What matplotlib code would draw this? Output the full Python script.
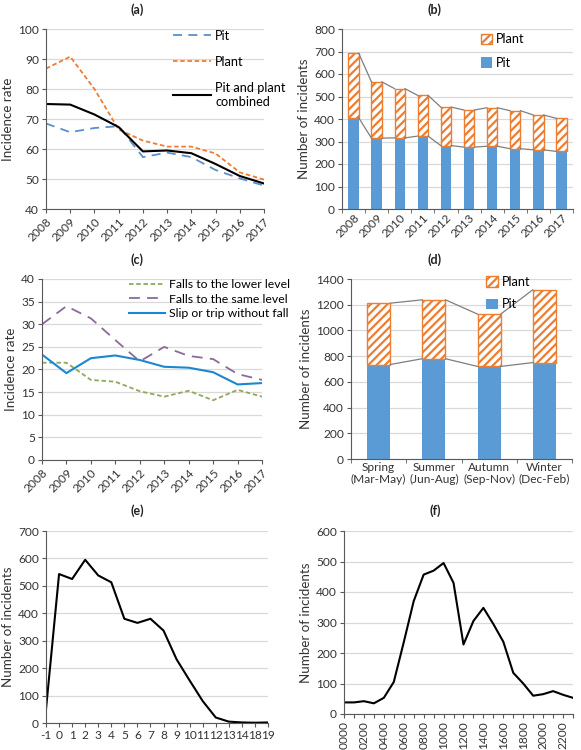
import matplotlib
import numpy as np

matplotlib.use("Agg")
import matplotlib.pyplot as plt

plt.rcParams["font.family"] = ["Lato", "DejaVu Sans"]
plt.rcParams["hatch.linewidth"] = 1.6

# ---------------------------------------------------------------------------
# data
# ---------------------------------------------------------------------------
years = ["2008", "2009", "2010", "2011", "2012", "2013", "2014", "2015", "2016", "2017"]

# (a) incidence rate
rate_pit = [68.5, 65.6, 67.0, 67.6, 57.3, 58.8, 57.3, 53.0, 50.2, 47.8]
rate_plant = [86.8, 90.8, 80.0, 66.5, 62.8, 60.8, 60.8, 58.5, 52.2, 49.8]
rate_combined = [75.0, 74.8, 71.5, 67.3, 59.2, 59.5, 58.6, 55.0, 51.0, 48.5]

# (b) number of incidents per year
count_pit = [405, 315, 316, 324, 282, 275, 279, 268, 263, 256]
count_total = [692, 565, 535, 505, 453, 440, 450, 437, 418, 403]

# (c) incidence rate by type
falls_lower = [21.5, 21.5, 17.7, 17.3, 15.2, 14.0, 15.3, 13.2, 15.5, 14.0]
falls_same = [30.0, 34.0, 31.3, 26.5, 21.8, 25.0, 23.0, 22.3, 19.0, 17.7]
slip_trip = [23.3, 19.2, 22.5, 23.1, 22.1, 20.6, 20.4, 19.4, 16.7, 17.0]

# (d) by season
seasons = ["Spring\n(Mar-May)", "Summer\n(Jun-Aug)", "Autumn\n(Sep-Nov)", "Winter\n(Dec-Feb)"]
season_pit = [735, 780, 720, 750]
season_total = [1212, 1238, 1127, 1316]

# (e) by hours into shift
shift_hours = ["-1", "0", "1", "2", "3", "4", "5", "6", "7", "8", "9", "10",
               "11", "12", "13", "14", "18", "19"]
shift_counts = [50, 543, 525, 595, 538, 513, 380, 365, 380, 337, 232, 155,
                80, 20, 5, 2, 1, 2]

# (f) by time of day
hour_labels = ["0000", "0100", "0200", "0300", "0400", "0500", "0600", "0700",
               "0800", "0900", "1000", "1100", "1200", "1300", "1400", "1500",
               "1600", "1700", "1800", "1900", "2000", "2100", "2200", "2300"]
hour_counts = [38, 38, 42, 35, 53, 105, 235, 370, 457, 470, 495, 430,
               228, 305, 348, 295, 237, 135, 100, 60, 65, 75, 63, 53]

BLUE = "#5B9BD5"
ORANGE = "#ED7D31"
GRID = "#D9D9D9"
AXIS = "#595959"
TICK_FS = 8.6
LABEL_FS = 9.6
LEG_FS = 9.2

W, H = 581, 750
fig = plt.figure(figsize=(W / 100, H / 100), dpi=100)


def add_ax(x0, y0, x1, y1):
    """pixel box (top-left origin) -> axes"""
    return fig.add_axes([x0 / W, 1 - y1 / H, (x1 - x0) / W, (y1 - y0) / H])


def style(ax, ylim, ystep, ylabel):
    ax.set_ylim(*ylim)
    ax.set_yticks(np.arange(ylim[0], ylim[1] + ystep / 2, ystep))
    ax.yaxis.grid(True, color=GRID, linewidth=0.9)
    ax.set_axisbelow(True)
    for s in ("top", "right"):
        ax.spines[s].set_visible(False)
    ax.spines["left"].set_color(AXIS)
    ax.spines["bottom"].set_color(AXIS)
    ax.tick_params(labelsize=TICK_FS, colors="#333333", length=3, color=AXIS, pad=2)
    ax.set_ylabel(ylabel, fontsize=LABEL_FS, color="#333333", labelpad=3)


def title(x, y, s):
    fig.text(x / W, 1 - y / H, s, ha="center", va="center",
             fontsize=9, fontweight="bold", color="#222222")


def stacked(ax, cats, pit, total, width):
    x = np.arange(len(cats))
    plant = np.array(total) - np.array(pit)
    ax.bar(x, pit, width, color=BLUE, label="Pit", zorder=2)
    ax.bar(x, plant, width, bottom=pit, color="white", edgecolor=ORANGE,
           hatch="////", linewidth=1.0, label="Plant", zorder=2)
    # series lines between bars
    for i in range(len(cats) - 1):
        for vals in (pit, total):
            ax.plot([x[i] + width / 2, x[i + 1] - width / 2], [vals[i], vals[i + 1]],
                    color="#7F7F7F", linewidth=0.9, zorder=3)
    ax.set_xlim(-0.5, len(cats) - 0.5)
    ax.set_xticks(x)
    ax.set_xticks(np.arange(-0.5, len(cats), 1), minor=True)
    ax.tick_params(axis="x", which="major", length=0)
    ax.tick_params(axis="x", which="minor", length=3, color=AXIS)
    h, l = ax.get_legend_handles_labels()
    return h[::-1], l[::-1]


# (a)
ax = add_ax(46, 29, 264, 209)
x = np.arange(len(years))
ax.plot(x, rate_pit, color="#5B8FC9", linestyle=(0, (5, 3.5)), linewidth=1.3, label="Pit")
ax.plot(x, rate_plant, color=ORANGE, linestyle=(0, (2.5, 1.5)), linewidth=1.3, label="Plant")
ax.plot(x, rate_combined, color="black", linewidth=1.5, label="Pit and plant\ncombined")
style(ax, (40, 100), 10, "Incidence rate")
ax.set_xlim(0, 9)
ax.set_xticks(x, years, rotation=45, ha="right", rotation_mode="anchor")
ax.legend(loc="upper left", bbox_to_anchor=(0.53, 1.06), frameon=False,
          fontsize=LEG_FS, labelspacing=1.1, handlelength=3.0, handletextpad=0.3)
title(137, 10, "(a)")

# (b)
ax = add_ax(342, 29, 573, 209)
style(ax, (0, 800), 100, "Number of incidents")
h, l = stacked(ax, years, count_pit, count_total, 0.45)
ax.set_xticklabels(years, rotation=45, ha="right", rotation_mode="anchor")
ax.legend(h, l, loc="upper left", bbox_to_anchor=(0.55, 1.04), frameon=False,
          fontsize=LEG_FS, labelspacing=0.9, handlelength=0.9,
          handleheight=0.9, handletextpad=0.3)
title(435, 10, "(b)")

# (c)
ax = add_ax(42, 279, 262, 460)
ax.plot(x, falls_lower, color="#8FAA5C", linestyle=(0, (2.5, 1.5)), linewidth=1.3,
        label="Falls to the lower level")
ax.plot(x, falls_same, color="#8A6A9A", linestyle=(0, (6, 4)), linewidth=1.3,
        label="Falls to the same level")
ax.plot(x, slip_trip, color="#1C87D0", linewidth=1.5, label="Slip or trip without fall")
style(ax, (0, 40), 5, "Incidence rate")
ax.set_xlim(0, 9)
ax.set_xticks(x, years, rotation=45, ha="right", rotation_mode="anchor")
ax.legend(loc="upper left", bbox_to_anchor=(0.36, 1.04), frameon=False,
          fontsize=8.8, labelspacing=0.3, handlelength=3.0, handletextpad=0.3,
          borderaxespad=0.2)
title(137, 260, "(c)")

# (d)
ax = add_ax(351, 279, 572, 459)
style(ax, (0, 1400), 200, "Number of incidents")
h, l = stacked(ax, seasons, season_pit, season_total, 0.42)
ax.set_xticklabels(seasons, linespacing=1.1)
ax.legend(h, l, loc="upper left", bbox_to_anchor=(0.56, 1.08), frameon=False,
          fontsize=LEG_FS, labelspacing=0.8, handlelength=0.9,
          handleheight=0.9, handletextpad=0.3)
title(435, 260, "(d)")

# (e)
ax = add_ax(46, 531, 268, 723)
xe = np.arange(len(shift_hours))
ax.plot(xe, shift_counts, color="black", linewidth=1.5)
style(ax, (0, 700), 100, "Number of incidents")
ax.set_xlim(0, len(shift_hours) - 1)
ax.set_xticks(xe, shift_hours)
title(137, 511, "(e)")

# (f)
ax = add_ax(344, 531, 573, 714)
xf = np.arange(len(hour_labels))
ax.plot(xf, hour_counts, color="black", linewidth=1.5)
style(ax, (0, 600), 100, "Number of incidents")
ax.set_xlim(0, len(hour_labels) - 1)
ax.set_xticks(xf, [lab if i % 2 == 0 else "" for i, lab in enumerate(hour_labels)],
              rotation=90)
title(435, 511, "(f)")

fig.savefig("out.png", dpi=100)
